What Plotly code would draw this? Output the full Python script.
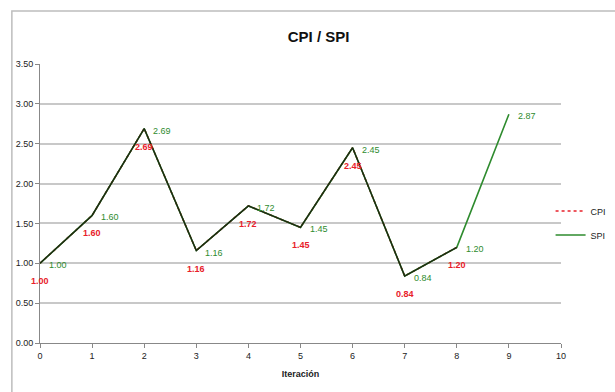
import plotly.graph_objects as go

iterations = [0, 1, 2, 3, 4, 5, 6, 7, 8, 9]
cpi = [1.00, 1.60, 2.69, 1.16, 1.72, 1.45, 2.45, 0.84, 1.20]
spi = [1.00, 1.60, 2.69, 1.16, 1.72, 1.45, 2.45, 0.84, 1.20, 2.87]
y_ticks = [0, 0.5, 1.0, 1.5, 2.0, 2.5, 3.0, 3.5]
x_ticks = list(range(0, 11))

FONT = "Liberation Sans Narrow, Liberation Sans, Arial, sans-serif"
RED = "#e8202a"
GREEN = "#2e8b2e"

fig = go.Figure()
fig.add_trace(go.Scatter(x=iterations[:len(cpi)], y=cpi, name="CPI", mode="lines", legendgroup="a",
                         line=dict(color=RED, width=1.6, dash="dot"), hoverinfo="skip"))
fig.add_trace(go.Scatter(x=iterations, y=spi, name="SPI", mode="lines", legendgroup="b",
                         line=dict(color=GREEN, width=1.6), hoverinfo="skip"))
# overlap of the two series renders darker where they coincide
fig.add_trace(go.Scatter(x=iterations[:len(cpi)], y=cpi, mode="lines", showlegend=False,
                         line=dict(color="#1d2a12", width=1.4), hoverinfo="skip"))

annotations = []
for xv, yv in zip(iterations, spi):
    annotations.append(dict(x=xv, y=yv, xref="x", yref="y", text=f"{yv:.2f}", showarrow=False,
                            xanchor="left", yanchor="middle", xshift=7, yshift=-2,
                            font=dict(family=FONT, size=9, color=GREEN)))
for xv, yv in zip(iterations, cpi):
    annotations.append(dict(x=xv, y=yv, xref="x", yref="y", text=f"<b>{yv:.2f}</b>", showarrow=False,
                            xanchor="center", yanchor="middle", yshift=-18,
                            font=dict(family=FONT, size=9, color=RED)))

fig.update_layout(
    width=615, height=392,
    margin=dict(l=40, r=54, t=64, b=49, autoexpand=False),
    paper_bgcolor="white", plot_bgcolor="white",
    title=dict(text="<b>CPI / SPI</b>", x=0.518, xanchor="center", y=0.905, yanchor="middle",
               font=dict(family=FONT, size=15, color="#111"), automargin=False),
    font=dict(family=FONT, size=9, color="#222"),
    showlegend=True,
    legend=dict(x=0.98, xanchor="left", y=0.43, yanchor="middle", bgcolor="rgba(0,0,0,0)",
                font=dict(family=FONT, size=9, color="#222"), itemwidth=30, tracegroupgap=5),
    annotations=annotations,
    shapes=[dict(type="rect", xref="paper", yref="paper", x0=-0.054, x1=1.3, y0=-0.3, y1=1.19,
                 line=dict(color="#bdbdbd", width=1.5), layer="below")],
)
fig.update_xaxes(range=[0, 10], tickvals=x_ticks, showgrid=False, zeroline=False, automargin=False,
                 showline=True, linecolor="#888", linewidth=1, ticks="outside", ticklen=4,
                 tickcolor="#888", tickfont=dict(family=FONT, size=9, color="#222"),
                 title=dict(text="<b>Iteración</b>", font=dict(family=FONT, size=9, color="#222"), standoff=10))
fig.update_yaxes(range=[0, 3.5], tickvals=y_ticks, tickformat=".2f", showgrid=True, automargin=False,
                 gridcolor="#c8c8c8", gridwidth=1.5, zeroline=False,
                 showline=True, linecolor="#888", linewidth=1, ticks="outside", ticklen=4,
                 tickcolor="#888", tickfont=dict(family=FONT, size=9, color="#222"))

fig.write_html("out.html", config={"displayModeBar": False},
               post_script="document.body.style.margin='0';document.body.style.overflow='hidden';")
